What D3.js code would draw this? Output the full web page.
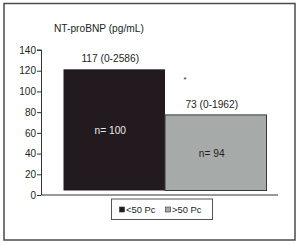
<!DOCTYPE html>
<html>
<head>
<meta charset="utf-8">
<script src="https://cdn.jsdelivr.net/npm/d3@7"></script>
<style>
  body { margin: 0; background: #fff; }
  text { font-family: "Liberation Sans Narrow", "Liberation Sans", Arial, sans-serif; fill: #231f20; }
</style>
</head>
<body>
<div id="chart"></div>
<script>
// data
const groups = ["<50 Pc", ">50 Pc"];
const medians = [117, 73];
const ranges = ["0-2586", "0-1962"];
const counts = [100, 94];
const yTicks = [0, 20, 40, 60, 80, 100, 120, 140];
const colors = ["#231a20", "#a6aba9"];

const W = 300, H = 245;
const svg = d3.select("#chart").append("svg")
  .attr("width", W).attr("height", H);

// outer frame
svg.append("rect")
  .attr("x", 4).attr("y", 3.5).attr("width", 291).attr("height", 236.5)
  .attr("fill", "none").attr("stroke", "#4a4a4a").attr("stroke-width", 1.5);

const x = d3.scaleBand().domain(groups).range([63.5, 266.5]).padding(0);
const y = d3.scaleLinear().domain([0, 140]).range([195, 50]);
const lift = 4.5; // bars sit a little above the axis line

// y axis
const yAxis = svg.append("g")
  .attr("transform", "translate(41,0)")
  .call(d3.axisLeft(y).tickValues(yTicks).tickSize(4).tickPadding(1));
yAxis.select(".domain").attr("stroke", "#333").attr("d", "M-4," + y(140) + "H0.5V" + y(0));
yAxis.selectAll(".tick line").attr("stroke", "#333");
yAxis.selectAll(".tick text").attr("font-size", 10).attr("fill", "#231f20")
  .attr("font-family", "Liberation Sans Narrow, Liberation Sans, Arial, sans-serif");

// x baseline
svg.append("line")
  .attr("x1", 41).attr("x2", 278).attr("y1", y(0)).attr("y2", y(0))
  .attr("stroke", "#333").attr("stroke-width", 1);

// title
svg.append("text").attr("x", 54).attr("y", 31.5)
  .attr("font-size", 10.2).text("NT-proBNP (pg/mL)");

// bars
svg.selectAll(".bar").data(groups).join("rect")
  .attr("class", "bar")
  .attr("x", d => x(d))
  .attr("y", (d, i) => y(medians[i]) - lift)
  .attr("width", x.bandwidth())
  .attr("height", (d, i) => y(0) - y(medians[i]))
  .attr("fill", (d, i) => colors[i])
  .attr("stroke", (d, i) => i == 0 ? "none" : "#3a3a3a")
  .attr("stroke-width", 1);

// value labels above bars
svg.selectAll(".val").data(groups).join("text")
  .attr("class", "val")
  .attr("x", d => x(d) + x.bandwidth() / 2 - 4)
  .attr("y", (d, i) => y(medians[i]) - lift - 7)
  .attr("text-anchor", "middle").attr("font-size", 10.2)
  .text((d, i) => medians[i] + " (" + ranges[i] + ")");

// n labels inside bars
svg.selectAll(".n").data(groups).join("text")
  .attr("class", "n")
  .attr("x", d => x(d) + x.bandwidth() / 2 - 4)
  .attr("y", (d, i) => (y(medians[i]) - lift + y(0) - lift) / 2 + 4)
  .attr("text-anchor", "middle").attr("font-size", 10.2)
  .style("fill", (d, i) => i == 0 ? "#e8e8e8" : "#231f20")
  .text((d, i) => "n= " + counts[i]);

// significance mark
svg.append("text").attr("x", 185).attr("y", 82)
  .attr("font-size", 8).attr("text-anchor", "middle").text("*");

// legend
const lg = svg.append("g").attr("transform", "translate(111.5,199)");
lg.append("rect").attr("width", 101).attr("height", 20.5)
  .attr("fill", "#fff").attr("stroke", "#555").attr("stroke-width", 1);
const items = lg.selectAll(".item").data(groups).join("g")
  .attr("class", "item")
  .attr("transform", (d, i) => "translate(" + (8 + i * 46) + ",0)");
items.append("rect").attr("y", 8).attr("width", 5).attr("height", 5)
  .attr("fill", (d, i) => colors[i]).attr("stroke", "#333").attr("stroke-width", 0.6);
items.append("text").attr("x", 6.5).attr("y", 14)
  .attr("font-size", 9.4).text(d => d);
</script>
</body>
</html>
